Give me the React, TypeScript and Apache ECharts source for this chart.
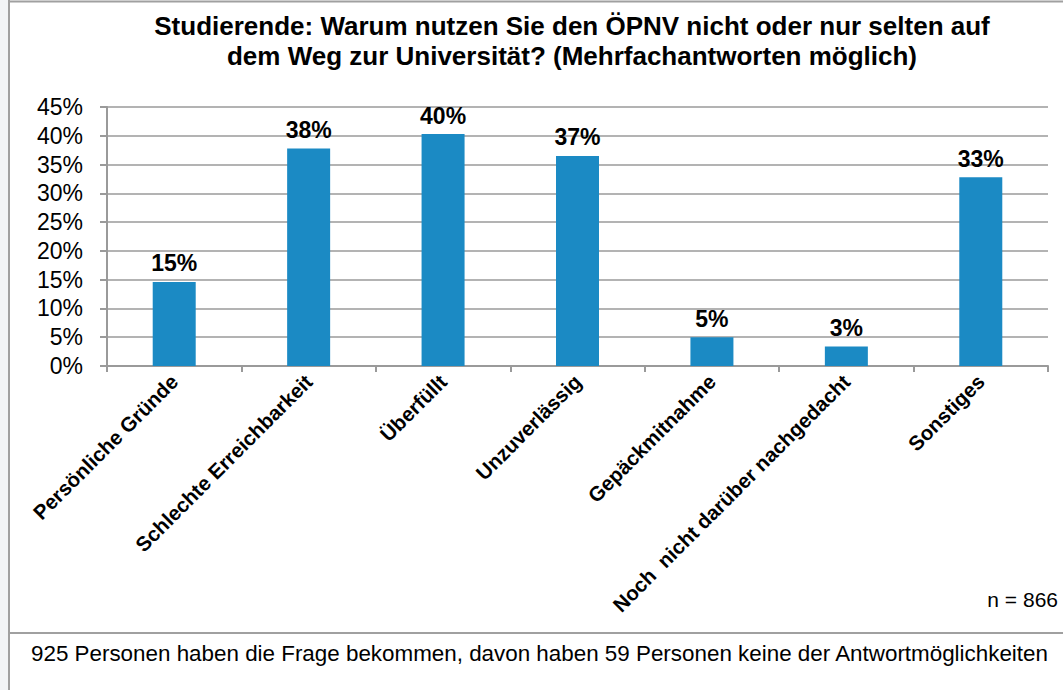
import React, { useEffect, useRef } from "react";
import * as echarts from "echarts";

const categories = [
  "Persönliche Gründe",
  "Schlechte Erreichbarkeit",
  "Überfüllt",
  "Unzuverlässig",
  "Gepäckmitnahme",
  "Noch  nicht darüber nachgedacht",
  "Sonstiges",
];
const values = [14.6, 37.8, 40.3, 36.5, 5.0, 3.4, 32.8];
const yTicks = { min: 0, max: 45, interval: 5 };
const titleLines = [
  "Studierende: Warum nutzen Sie den ÖPNV nicht oder nur selten auf",
  "dem Weg zur Universität? (Mehrfachantworten möglich)",
];
const nText = "n = 866";
const footerText =
  "925 Personen haben die Frage bekommen, davon haben 59 Personen keine der Antwortmöglichkeiten";

const FONT = "'Liberation Sans', Arial, sans-serif";

export default function App() {
  const ref = useRef<HTMLDivElement>(null);
  useEffect(() => {
    if (!ref.current) return;
    const chart = echarts.init(ref.current, undefined, { renderer: "svg" });
    chart.setOption({
      animation: false,
      backgroundColor: "#ffffff",
      textStyle: { fontFamily: FONT },
      title: {
        text: titleLines.join("\n"),
        left: 567,
        textAlign: "center",
        top: 6,
        textStyle: {
          fontFamily: FONT,
          fontSize: 26,
          fontWeight: "bold",
          color: "#000",
          lineHeight: 30,
        },
      },
      grid: { left: 107, top: 107, right: 15, bottom: 324, containLabel: false },
      xAxis: {
        type: "category",
        data: categories,
        axisLine: { show: true, lineStyle: { color: "#9a9a9a", width: 2 } },
        axisTick: { show: true, length: 6, lineStyle: { color: "#9a9a9a", width: 2 } },
        axisLabel: {
          rotate: 45,
          interval: 0,
          margin: 12,
          fontFamily: FONT,
          fontSize: 20.5,
          fontWeight: "bold",
          color: "#000",
        },
      },
      yAxis: {
        type: "value",
        min: yTicks.min,
        max: yTicks.max,
        interval: yTicks.interval,
        axisLine: { show: true, lineStyle: { color: "#9a9a9a", width: 2 } },
        axisTick: { show: true, length: 7, lineStyle: { color: "#9a9a9a", width: 2 } },
        splitLine: { show: true, lineStyle: { color: "#9a9a9a", width: 1.5 } },
        axisLabel: {
          formatter: "{value}%",
          margin: 24,
          fontFamily: FONT,
          fontSize: 23,
          color: "#000",
        },
      },
      series: [
        {
          type: "bar",
          data: values,
          barWidth: 43,
          itemStyle: { color: "#1B8AC4" },
          label: {
            show: true,
            position: "top",
            distance: 7,
            formatter: (p: any) => Math.round(p.value) + "%",
            fontFamily: FONT,
            fontSize: 23,
            fontWeight: "bold",
            color: "#000",
          },
        },
      ],
      graphic: [
        { type: "rect", shape: { x: 0, y: 0, width: 8, height: 690 }, style: { fill: "#F2F4F6" }, silent: true },
        { type: "line", shape: { x1: 9, y1: 1.5, x2: 1063, y2: 1.5 }, style: { stroke: "#a0a0a0", lineWidth: 2 }, silent: true },
        { type: "line", shape: { x1: 9, y1: 0, x2: 9, y2: 690 }, style: { stroke: "#a0a0a0", lineWidth: 2 }, silent: true },
        { type: "line", shape: { x1: 9, y1: 633, x2: 1063, y2: 633 }, style: { stroke: "#a0a0a0", lineWidth: 2 }, silent: true },
        {
          type: "text",
          x: 1058,
          y: 599,
          style: { text: nText, fontFamily: FONT, fontSize: 21, fill: "#000", textAlign: "right", textVerticalAlign: "middle" },
          silent: true,
        },
        {
          type: "text",
          x: 31,
          y: 653,
          style: { text: footerText, fontFamily: FONT, fontSize: 22.4, fill: "#000", textAlign: "left", textVerticalAlign: "middle" },
          silent: true,
        },
      ],
    });
    return () => chart.dispose();
  }, []);
  return (
    <div
      ref={ref}
      style={{ position: "absolute", left: 0, top: 0, width: 1063, height: 690 }}
    />
  );
}
